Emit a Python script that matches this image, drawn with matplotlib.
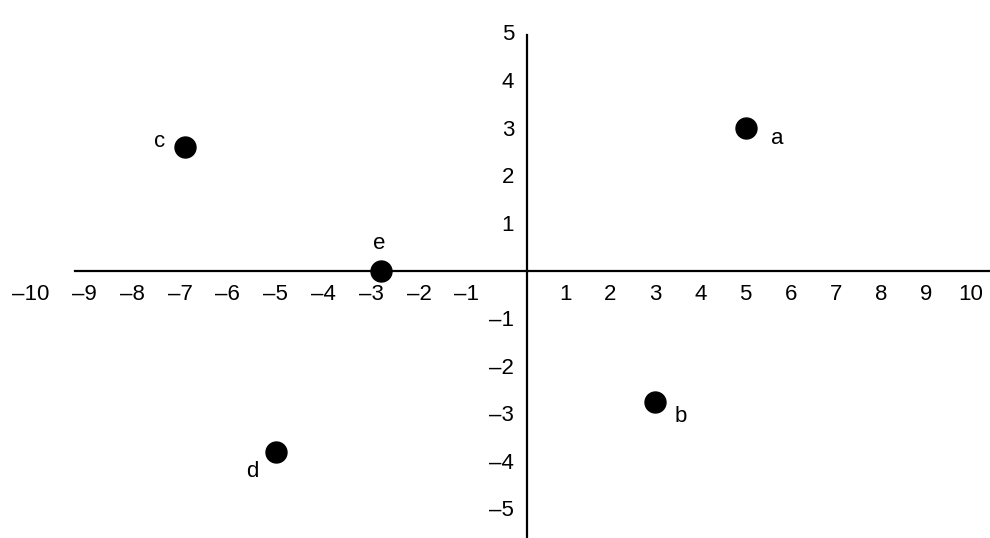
import numpy as np
import matplotlib
matplotlib.use("Agg")
import matplotlib.pyplot as plt

plt.rcParams['font.family'] = ['Liberation Sans', 'DejaVu Sans']

# data
names = ['a', 'b', 'c', 'd', 'e']
xs = [5, 3, -7, -5.1, -2.9]
ys = [3, -2.75, 2.6, -3.8, 0]
label_offsets = {'a': (32, -16), 'b': (25, -20.5), 'c': (-25.5, 0), 'd': (-23.5, -25), 'e': (-2, 22)}
xticks = [-10, -9, -8, -7, -6, -5, -4, -3, -2, -1, 1, 2, 3, 4, 5, 6, 7, 8, 9, 10]
yticks = [5, 4, 3, 2, 1, -1, -2, -3, -4, -5]

LS, RS = 47.8, 45.1

def fwd(x):
    x = np.asarray(x, dtype=float)
    return np.where(x < 0, x * LS, x * RS)

def inv(u):
    u = np.asarray(u, dtype=float)
    return np.where(u < 0, u / LS, u / RS)

fig = plt.figure(figsize=(9.9, 5.38), dpi=100)
ax = fig.add_axes([0, 0, 1, 1])
ax.set_xscale('function', functions=(fwd, inv))
ax.set_xlim(-520 / LS, 470 / RS)
ax.set_ylim(-267 / 47.6, 271 / 47.6)

yaxis_frac = 527 / 990

for s in ['top', 'right']:
    ax.spines[s].set_visible(False)
ax.spines['bottom'].set_position(('data', 0))
ax.spines['bottom'].set_bounds(-(520 - 75) / LS, 470 / RS)
ax.spines['left'].set_position(('axes', yaxis_frac))
ax.spines['left'].set_bounds(-5.7, 4.96)
for s in ['bottom', 'left']:
    ax.spines[s].set_linewidth(1.6)
    ax.spines[s].set_color('black')
ax.set_xticks([])
ax.set_yticks([])
ax.patch.set_alpha(0)

fs = 16

def fmt(t):
    return f"\u2013{abs(t)}" if t < 0 else str(t)

for t in xticks:
    lab = fmt(t)
    if t < 0:
        ax.annotate(lab, xy=(t, 0), xytext=(7, -29.5), textcoords='offset pixels',
                    ha='right', va='baseline', fontsize=fs)
    else:
        ax.annotate(lab, xy=(t, 0), xytext=(0, -29.5), textcoords='offset pixels',
                    ha='center', va='baseline', fontsize=fs)

for t in yticks:
    lab = fmt(t)
    ax.annotate(lab, xy=(yaxis_frac, t), xycoords=('axes fraction', 'data'),
                xytext=(-13, -7.5), textcoords='offset pixels',
                ha='right', va='baseline', fontsize=fs)

ax.scatter(xs, ys, s=228, color='black', zorder=5, clip_on=False)
for n, x, y in zip(names, xs, ys):
    dx, dy = label_offsets[n]
    ax.annotate(n, xy=(x, y), xytext=(dx, dy), textcoords='offset pixels',
                ha='center', va='baseline', fontsize=fs)

fig.savefig('out.png', dpi=100)
